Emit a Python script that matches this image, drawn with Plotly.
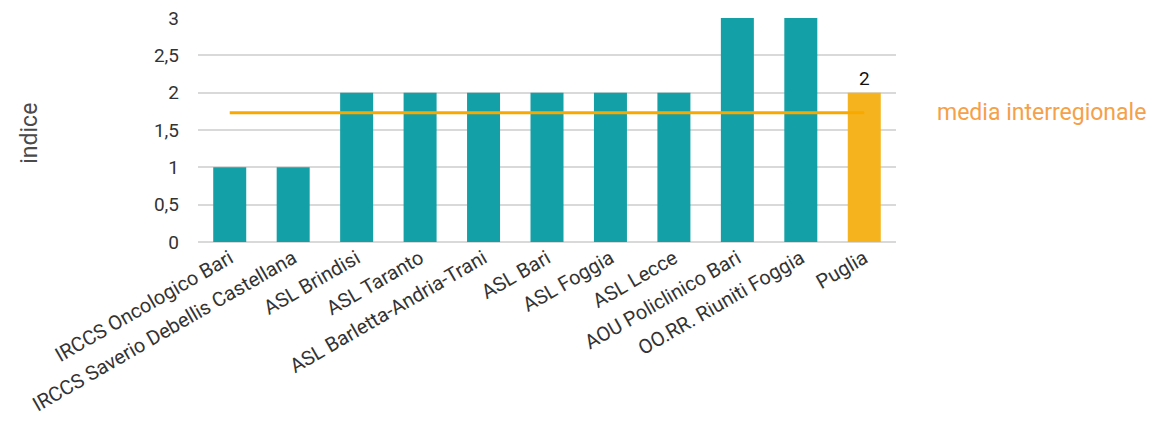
import plotly.graph_objects as go

categories = ["IRCCS Oncologico Bari", "IRCCS Saverio Debellis Castellana", "ASL Brindisi",
              "ASL Taranto", "ASL Barletta-Andria-Trani", "ASL Bari", "ASL Foggia", "ASL Lecce",
              "AOU Policlinico Bari", "OO.RR. Riuniti Foggia", "Puglia"]
values = [1, 1, 2, 2, 2, 2, 2, 2, 3, 3, 2]
media_interregionale = 1.73
highlight = "Puglia"

FONT = "Roboto"
colors = ["#F5B41E" if c == highlight else "#13A0A6" for c in categories]
texts = [str(v) if c == highlight else "" for c, v in zip(categories, values)]

fig = go.Figure()
fig.add_trace(go.Bar(
    x=categories, y=values, marker=dict(color=colors, line=dict(width=0)),
    width=0.52, text=texts, textposition="outside", cliponaxis=False,
    textfont=dict(family=FONT, size=19, color="#111111"), showlegend=False,
))
fig.add_trace(go.Scatter(
    x=categories, y=[media_interregionale] * len(categories), mode="lines",
    line=dict(color="#F9A800", width=3), showlegend=False, hoverinfo="skip",
))
fig.add_annotation(
    xref="paper", yref="y", x=1.056, y=media_interregionale, xanchor="left", yanchor="middle",
    text="media interregionale", showarrow=False,
    font=dict(family=FONT, size=23, color="#F5A04A"),
)
fig.add_annotation(
    xref="paper", yref="y", x=-0.241, y=1.46, xanchor="center", yanchor="middle",
    text="indice", showarrow=False, textangle=-90,
    font=dict(family=FONT, size=23, color="#4A4A4A"),
)
# page body has an 8px margin: shrink figure so the plot area lands where the reference has it
fig.update_layout(
    width=1147, height=419, margin=dict(l=190, r=259, t=10, b=185),
    paper_bgcolor="white", plot_bgcolor="white", separators=",.",
    font=dict(family=FONT, color="#333333"),
)
fig.update_xaxes(tickangle=-30, tickfont=dict(family=FONT, size=20, color="#333333"),
                 showgrid=False, showline=False, ticks="", automargin=False,
                 ticklabeloverflow="allow")
fig.update_yaxes(range=[0, 3], dtick=0.5, showgrid=True, gridcolor="#D9D9D9", gridwidth=1.5,
                 zeroline=True, zerolinecolor="#D9D9D9", zerolinewidth=1.5,
                 tickfont=dict(family=FONT, size=19, color="#333333"), ticklabelstandoff=18,
                 automargin=False, ticklabeloverflow="allow")
fig.write_html("out.html")
